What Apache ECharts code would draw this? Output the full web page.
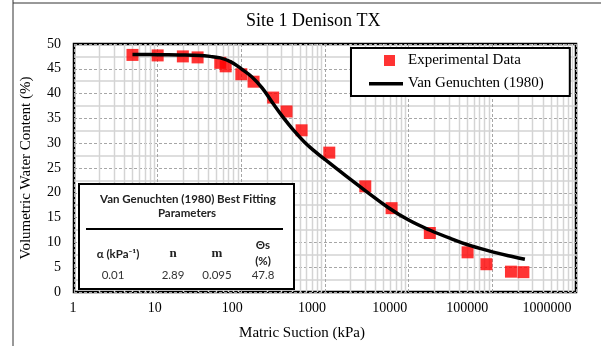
<!DOCTYPE html>
<html>
<head>
<meta charset="utf-8">
<script src="https://cdn.jsdelivr.net/npm/echarts@6/dist/echarts.min.js"></script>
<style>
html,body{margin:0;padding:0;background:#fff;}
#c{width:613px;height:346px;}
</style>
</head>
<body>
<div id="c"></div>
<script>
// Measured data (Matric suction kPa, volumetric water content %)
const expSuction = [5, 10, 20, 30, 56, 65, 100, 140, 240, 347, 525, 1125, 3030, 6250, 17900, 50600, 85000, 167000, 235000];
const expTheta   = [47.8, 47.7, 47.5, 47.3, 46.2, 45.5, 43.9, 42.4, 39.2, 36.4, 32.6, 28.1, 21.3, 16.9, 11.9, 8.0, 5.6, 4.1, 4.0];

// Van Genuchten fitted curve
const vgSuction = [5, 10, 18, 32, 45, 56, 75, 100, 133, 178, 237, 316, 422, 562, 750, 1000, 1778, 3162, 5623, 10000, 17783, 31623, 56234, 100000, 177828, 245000];
const vgTheta   = [47.9, 47.85, 47.8, 47.7, 47.45, 47.2, 46.4, 45.0, 43.4, 41.1, 38.1, 35.2, 32.6, 30.3, 28.4, 26.7, 23.4, 20.2, 17.1, 14.5, 12.5, 10.8, 9.3, 8.1, 7.1, 6.6];

const xTickLabels = ['1', '10', '100', '1000', '10000', '100000', '1000000'];
const yTickLabels = ['0', '5', '10', '15', '20', '25', '30', '35', '40', '45', '50'];
const minorX = [2,3,4,5,6,7,8,9];

const tableTitle1 = 'Van Genuchten (1980) Best Fitting';
const tableTitle2 = 'Parameters';
const tableValues = ['0.01', '2.89', '0.095', '47.8'];

const serif = 'Liberation Serif';
const xLabelShift = [2, 6, 18, 26, 38, 50, 58];

const rich = {};
xLabelShift.forEach((p, i) => {
  rich['d' + i] = {fontFamily: serif, fontSize: 14, color: '#000', padding: [0, p, 0, 0]};
});

const minorLines = [];
for (let d = 0; d < 6; d++) {
  minorX.forEach(m => minorLines.push([m * Math.pow(10, d)]));
}

const chart = echarts.init(document.getElementById('c'), null, {renderer: 'canvas'});
chart.setOption({
  animation: false,
  backgroundColor: '#fff',
  title: {
    text: 'Site 1 Denison TX',
    left: 246, top: 12,
    padding: 0,
    textStyle: {fontFamily: serif, fontSize: 18, fontWeight: 'normal', color: '#000'}
  },
  grid: {
    left: 74, right: 37, top: 44, bottom: 50,
    show: true, borderColor: '#000', borderWidth: 2.5, backgroundColor: 'transparent'
  },
  legend: {
    orient: 'vertical',
    left: 351, top: 48,
    padding: [5, 26, 5, 18],
    itemGap: 8,
    itemWidth: 34, itemHeight: 11,
    borderColor: '#000', borderWidth: 2, backgroundColor: '#fff',
    textStyle: {fontFamily: serif, fontSize: 15, color: '#000'},
    data: [
      {name: 'Experimental Data', icon: 'path://M0,0L0.01,0M15,0L26,0L26,11L15,11ZM34,11L33.99,11'},
      {name: 'Van Genuchten (1980)', icon: 'path://M0,0L0.01,0M0,4L34,4L34,7.5L0,7.5ZM34,11L33.99,11'}
    ]
  },
  xAxis: {
    type: 'log', logBase: 10, min: 1, max: 1000000, splitNumber: 6,
    name: 'Matric Suction (kPa)', nameLocation: 'middle', nameGap: 34,
    nameTextStyle: {fontFamily: serif, fontSize: 15, color: '#000', padding: [0, 46, 0, 0]},
    axisLine: {show: false}, axisTick: {show: false},
    axisLabel: {
      margin: 9, showMinLabel: true, showMaxLabel: true,
      formatter: v => { const i = Math.round(Math.log10(v)); return '{d' + i + '|' + xTickLabels[i] + '}'; },
      rich: rich
    },
    splitLine: {show: true, lineStyle: {color: '#a6a6a6', type: [3, 2], width: 1}}
  },
  yAxis: {
    type: 'value', min: 0, max: 50, interval: 5,
    name: 'Volumetric Water Content (%)', nameLocation: 'middle', nameGap: 40, nameRotate: 90,
    nameTextStyle: {fontFamily: serif, fontSize: 15, color: '#000'},
    axisLine: {show: false}, axisTick: {show: false},
    axisLabel: {margin: 13, fontFamily: serif, fontSize: 14, color: '#000',
      formatter: v => yTickLabels[Math.round(v / 5)]},
    splitLine: {show: true, lineStyle: {color: '#a6a6a6', type: [3, 2], width: 1}},
    minorTick: {show: false, splitNumber: 2},
    minorSplitLine: {show: true, lineStyle: {color: '#d4d4d4', width: 1.5}}
  },
  series: [
    {
      name: 'minor-grid', type: 'custom', z: 0, silent: true,
      data: minorLines,
      encode: {x: 0},
      renderItem: function (params, api) {
        const v = api.value(0);
        const p1 = api.coord([v, 0]);
        const p2 = api.coord([v, 50]);
        return {
          type: 'line',
          shape: {x1: Math.round(p1[0]) + 0.5, y1: p1[1], x2: Math.round(p2[0]) + 0.5, y2: p2[1]},
          style: {stroke: '#d4d4d4', lineWidth: 1.5}
        };
      }
    },
    {
      name: 'Experimental Data', type: 'scatter', symbol: 'rect', symbolSize: 12, z: 3,
      itemStyle: {color: '#ff0000'},
      data: expSuction.map((x, i) => [x, expTheta[i]])
    },
    {
      name: 'Van Genuchten (1980)', type: 'line', showSymbol: false, symbol: 'none', z: 4,
      smooth: 0.4,
      lineStyle: {color: '#000', width: 3.5, cap: 'butt'},
      itemStyle: {color: '#000'},
      data: vgSuction.map((x, i) => [x, vgTheta[i]])
    }
  ],
  graphic: [
    {type: 'line', z: 100, shape: {x1: 13, y1: 0, x2: 13, y2: 346}, style: {stroke: '#333', lineWidth: 1}},
    {type: 'line', z: 100, shape: {x1: 13, y1: 3, x2: 601, y2: 3}, style: {stroke: '#333', lineWidth: 1}},
    {type: 'rect', z: 100, shape: {x: 79, y: 184, width: 215, height: 105}, style: {fill: '#fff', stroke: '#000', lineWidth: 2}},
    {type: 'line', z: 101, shape: {x1: 86, y1: 229, x2: 283, y2: 229}, style: {stroke: '#000', lineWidth: 2}},
    {type: 'text', z: 101, x: 188, y: 199, style: {text: tableTitle1, font: 'bold 11.5px Lato', fill: '#222', align: 'center', verticalAlign: 'middle'}},
    {type: 'text', z: 101, x: 187, y: 213.5, style: {text: tableTitle2, font: 'bold 11.5px Lato', fill: '#222', align: 'center', verticalAlign: 'middle'}},
    {type: 'text', z: 101, x: 118, y: 254, style: {text: 'α (kPa⁻¹)', font: 'bold 11.5px Lato', fill: '#222', align: 'center', verticalAlign: 'middle'}},
    {type: 'text', z: 101, x: 173, y: 254, style: {text: 'n', font: 'bold 13px "Liberation Serif"', fill: '#222', align: 'center', verticalAlign: 'middle'}},
    {type: 'text', z: 101, x: 217, y: 254, style: {text: 'm', font: 'bold 13px "Liberation Serif"', fill: '#222', align: 'center', verticalAlign: 'middle'}},
    {type: 'text', z: 101, x: 263, y: 245, style: {text: 'Θs', font: 'bold 11.5px Lato', fill: '#222', align: 'center', verticalAlign: 'middle'}},
    {type: 'text', z: 101, x: 263, y: 261.5, style: {text: '(%)', font: 'bold 11.5px Lato', fill: '#222', align: 'center', verticalAlign: 'middle'}},
    {type: 'text', z: 101, x: 113, y: 275, style: {text: tableValues[0], font: '11.5px Lato', fill: '#333', align: 'center', verticalAlign: 'middle'}},
    {type: 'text', z: 101, x: 173, y: 275, style: {text: tableValues[1], font: '11.5px Lato', fill: '#333', align: 'center', verticalAlign: 'middle'}},
    {type: 'text', z: 101, x: 217, y: 275, style: {text: tableValues[2], font: '11.5px Lato', fill: '#333', align: 'center', verticalAlign: 'middle'}},
    {type: 'text', z: 101, x: 263, y: 275, style: {text: tableValues[3], font: '11.5px Lato', fill: '#333', align: 'center', verticalAlign: 'middle'}}
  ]
});
</script>
</body>
</html>
